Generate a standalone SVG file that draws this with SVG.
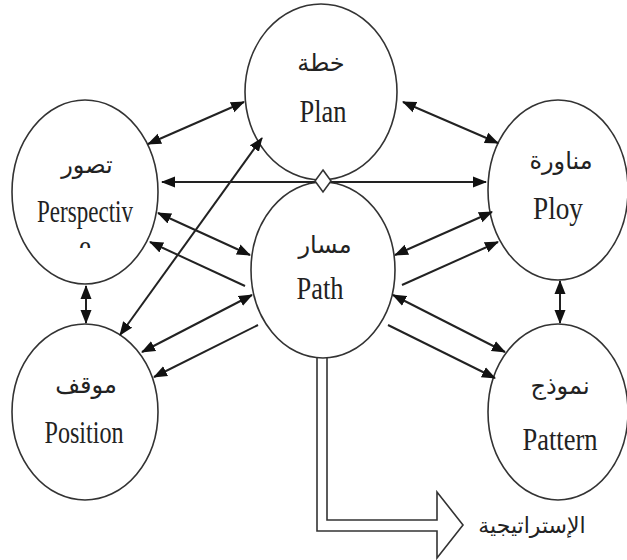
<svg xmlns="http://www.w3.org/2000/svg" width="627" height="560" viewBox="0 0 627 560">
<style>
.node ellipse{fill:#fff;stroke:#333;stroke-width:1.6}
.en{font-family:"Liberation Serif","Times New Roman",serif;font-size:32px;fill:#222;text-anchor:middle}
.ar{font-family:"DejaVu Sans","Noto Sans",sans-serif;font-size:24px;fill:#222;text-anchor:middle}
.c line{stroke:#222;stroke-width:2}
.dbl{marker-start:url(#ah);marker-end:url(#ah)}
.one{marker-end:url(#ah)}
</style>
<defs>
<marker id="ah" markerUnits="userSpaceOnUse" markerWidth="14" markerHeight="12" refX="13" refY="5.5" orient="auto-start-reverse" viewBox="0 0 14 11">
<path d="M0,0 L14,5.5 L0,11 z" fill="#111"/>
</marker>
<clipPath id="eclip"><rect x="60" y="236" width="50" height="12"/></clipPath>
</defs>
<rect width="627" height="560" fill="#fff"/>

<g id="plan" class="node">
<ellipse cx="321" cy="92" rx="76" ry="88"/>
<text class="ar" x="321" y="71">خطة</text>
<text class="en" x="323" y="122" textLength="47" lengthAdjust="spacingAndGlyphs">Plan</text>
</g>
<g id="perspective" class="node">
<ellipse cx="85" cy="192" rx="73" ry="92"/>
<text class="ar" x="87" y="173">تصور</text>
<text class="en" x="85" y="222" textLength="96" lengthAdjust="spacingAndGlyphs">Perspectiv</text>
<text class="en" x="85" y="257" clip-path="url(#eclip)" textLength="12" lengthAdjust="spacingAndGlyphs">e</text>
</g>
<g id="path" class="node">
<ellipse cx="323" cy="270" rx="72" ry="88"/>
<text class="ar" x="325" y="253">مسار</text>
<text class="en" x="320" y="299" textLength="47" lengthAdjust="spacingAndGlyphs">Path</text>
</g>
<g id="ploy" class="node">
<ellipse cx="558" cy="190" rx="70" ry="90"/>
<text class="ar" x="561" y="169">مناورة</text>
<text class="en" x="558" y="219" textLength="50" lengthAdjust="spacingAndGlyphs">Ploy</text>
</g>
<g id="position" class="node">
<ellipse cx="85" cy="412" rx="73" ry="88"/>
<text class="ar" x="86" y="393">موقف</text>
<text class="en" x="84" y="443" textLength="79" lengthAdjust="spacingAndGlyphs">Position</text>
</g>
<g id="pattern" class="node">
<ellipse cx="558" cy="412" rx="70" ry="88"/>
<text class="ar" x="560" y="394">نموذج</text>
<text class="en" x="560" y="450" textLength="75" lengthAdjust="spacingAndGlyphs">Pattern</text>
</g>

<g id="connectors" class="c">
<line class="dbl" x1="148" y1="144" x2="244" y2="102"/>
<line class="dbl" x1="162" y1="182" x2="486" y2="182"/>
<line class="dbl" x1="120" y1="335" x2="262" y2="138"/>
<line class="dbl" x1="158" y1="213" x2="250" y2="255"/>
<line class="one" x1="245" y1="286" x2="150" y2="242"/>
<line class="dbl" x1="142" y1="352" x2="252" y2="295"/>
<line class="one" x1="258" y1="325" x2="154" y2="377"/>
<line class="dbl" x1="403" y1="102" x2="498" y2="143"/>
<line class="dbl" x1="395" y1="255" x2="492" y2="212"/>
<line class="one" x1="402" y1="285" x2="498" y2="242"/>
<line class="dbl" x1="393" y1="295" x2="505" y2="352"/>
<line class="one" x1="388" y1="325" x2="495" y2="378"/>
<line class="dbl" x1="86" y1="286" x2="86" y2="323"/>
<line class="dbl" x1="560" y1="281" x2="560" y2="323"/>
<polygon points="323,170 331,181 323,192 315,181" fill="#fff" stroke="#333" stroke-width="1.6"/>
<path d="M317,357 L317,531 L437,531 L437,558 L463,525 L437,492 L437,520 L327,520 L327,357" fill="none" stroke="#333" stroke-width="1.6"/>
</g>
<text id="strategy" class="ar" x="532" y="533" style="font-size:22px">الإستراتيجية</text>
</svg>
